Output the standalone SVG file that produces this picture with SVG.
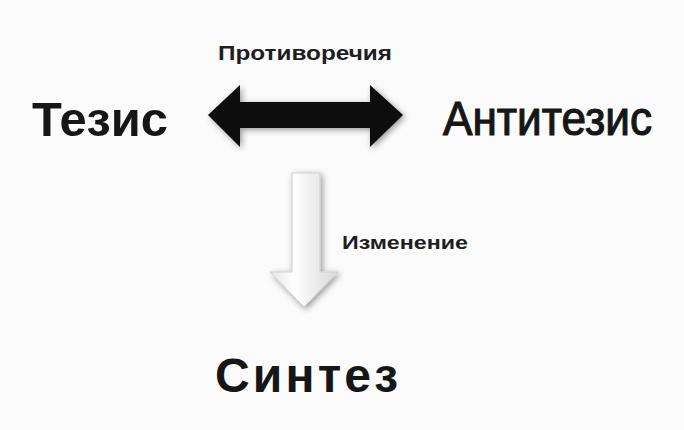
<svg xmlns="http://www.w3.org/2000/svg" width="684" height="430" viewBox="0 0 684 430">
<defs>
<style>
.big{font-family:"Liberation Sans","DejaVu Sans",sans-serif;fill:#161616;font-size:48px;font-weight:bold}
.mid{font-family:"Liberation Sans Narrow","Liberation Sans",sans-serif;fill:#161616;stroke:#161616;stroke-width:1.2px;font-size:49px}
.small{font-family:"Liberation Sans Narrow","Liberation Sans",sans-serif;fill:#1e1e1e;font-weight:bold}
</style>
<filter id="sh" x="-20%" y="-20%" width="140%" height="140%">
<feGaussianBlur in="SourceAlpha" stdDeviation="3"/>
<feOffset dx="2" dy="2" result="b"/>
<feComponentTransfer><feFuncA type="linear" slope="0.4"/></feComponentTransfer>
<feMerge><feMergeNode/><feMergeNode in="SourceGraphic"/></feMerge>
</filter>
<linearGradient id="wg" x1="0" y1="0" x2="1" y2="0">
<stop offset="0" stop-color="#e4e4e4"/>
<stop offset="0.35" stop-color="#ffffff"/>
<stop offset="1" stop-color="#d8d8d8"/>
</linearGradient>
</defs>
<rect width="684" height="430" fill="#fbfbfb"/>
<g id="thesis"><text class="big" x="32" y="136" textLength="136" lengthAdjust="spacingAndGlyphs">Тезис</text></g>
<g id="antithesis"><text class="mid" x="443" y="135" textLength="209" lengthAdjust="spacingAndGlyphs">Антитезис</text></g>
<g id="synthesis"><text class="big" x="215" y="392" textLength="183" lengthAdjust="spacing">Синтез</text></g>
<g id="connectors">
<g id="contradictions">
<path d="M208,115 L240,85 L240,102 L370,102 L370,85 L403,115 L370,147 L370,128 L240,128 L240,147 Z" fill="#0a0a0a" filter="url(#sh)"/>
<text class="small" x="218" y="60" font-size="21" textLength="174" lengthAdjust="spacingAndGlyphs">Противоречия</text>
</g>
<g id="change">
<path d="M292,173 L320,173 L320,272 L338,272 L304,307 L270,272 L292,272 Z" fill="url(#wg)" stroke="#cfcfcf" stroke-width="1" filter="url(#sh)"/>
<text class="small" x="342" y="249" font-size="19" textLength="126" lengthAdjust="spacingAndGlyphs">Изменение</text>
</g>
</g>
</svg>
